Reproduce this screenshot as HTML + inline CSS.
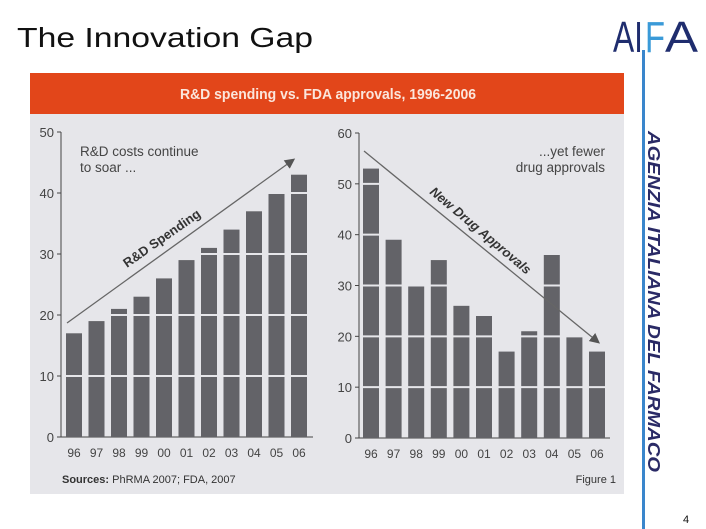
<!DOCTYPE html>
<html><head><meta charset="utf-8"><style>
html,body{margin:0;padding:0;background:#fff;width:706px;height:529px;overflow:hidden}
svg{display:block;font-family:"Liberation Sans",sans-serif}
</style></head><body>
<svg id="s" width="706" height="529">
<text x="17" y="47" font-size="28" fill="#111" textLength="296" lengthAdjust="spacingAndGlyphs">The Innovation Gap</text>
<g>
<text x="613" y="52" font-size="44" fill="#1f2d6e" textLength="30" lengthAdjust="spacingAndGlyphs">AI</text>
<text x="645" y="52" font-size="44" fill="#3a9ad8" textLength="20" lengthAdjust="spacingAndGlyphs">F</text>
<text x="665" y="52" font-size="44" fill="#1f2d6e" textLength="33" lengthAdjust="spacingAndGlyphs">A</text>
</g>
<rect x="642" y="50" width="3" height="479" fill="#3a86cc"/>
<text transform="translate(648,131) rotate(90)" font-size="17.5" font-weight="bold" font-style="italic" fill="#2a2a66" textLength="341" lengthAdjust="spacingAndGlyphs">AGENZIA ITALIANA DEL FARMACO</text>
<text x="683" y="523" font-size="11" fill="#111">4</text>
<rect x="30" y="73" width="594" height="421" fill="#e6e6ea"/>
<rect x="30" y="73" width="594" height="41" fill="#e2461a"/>
<text x="180" y="99" font-size="15" font-weight="bold" fill="#fbe6dc" textLength="296" lengthAdjust="spacingAndGlyphs">R&amp;D spending vs. FDA approvals, 1996-2006</text>
<g id="left"></g>
<g id="right"></g>
<text x="62" y="483" font-size="11" fill="#333"><tspan font-weight="bold">Sources:</tspan> PhRMA 2007; FDA, 2007</text>
<text x="616" y="483" font-size="11" fill="#333" text-anchor="end">Figure 1</text>
</svg>
<script>
const years=["96","97","98","99","00","01","02","03","04","05","06"];
const rdValues=[17,19,21,23,26,29,31,34,37,40,43];
const approvals=[53,39,30,35,26,24,17,21,36,20,17];
const rdTicks=[0,10,20,30,40,50];
const apTicks=[0,10,20,30,40,50,60];
const NS="http://www.w3.org/2000/svg";
function mk(p,t,a){const e=document.createElementNS(NS,t);for(const k in a)e.setAttribute(k,a[k]);p.appendChild(e);return e;}
function chart(g,vals,ticks,cfg){
 const max=ticks[ticks.length-1];
 const y=v=>cfg.y0-(cfg.y0-cfg.yTop)*v/max;
 const x=i=>cfg.x0+cfg.step*i;
 mk(g,'line',{x1:cfg.ax,y1:cfg.yTop,x2:cfg.ax,y2:cfg.y0,stroke:'#444','stroke-width':1});
 mk(g,'line',{x1:cfg.ax,y1:cfg.y0,x2:cfg.xEnd,y2:cfg.y0,stroke:'#444','stroke-width':1});
 ticks.forEach(t=>{
  mk(g,'line',{x1:cfg.ax-4,y1:y(t),x2:cfg.ax,y2:y(t),stroke:'#444'});
  const tx=mk(g,'text',{x:cfg.ax-7,y:y(t)+5,'font-size':13,fill:'#444','text-anchor':'end'});tx.textContent=t;
  
  
 });
 vals.forEach((v,i)=>{
  const r=mk(g,'rect',{x:x(i),y:y(v),width:cfg.bw,height:cfg.y0-y(v),fill:'#636368'});
  
  
  const tx=mk(g,'text',{x:x(i)+cfg.bw/2,y:cfg.y0+20,'font-size':12,fill:'#444','text-anchor':'middle'});tx.textContent=years[i];
  
  
 });
 ticks.forEach(t=>{if(t>0&&t<max){const l=mk(g,'line',{x1:cfg.ax+2,y1:y(t),x2:cfg.xEnd-2,y2:y(t),stroke:'#e6e6ea','stroke-width':2});
  
  }});
}
const L=document.getElementById('left'),R=document.getElementById('right');
chart(L,rdValues,rdTicks,{ax:61,y0:437,yTop:132,x0:66,step:22.5,bw:16,xEnd:313});
chart(R,approvals,apTicks,{ax:359,y0:438,yTop:133,x0:363,step:22.6,bw:16,xEnd:610});
const defs=mk(document.getElementById('s'),'defs',{});
const m=mk(defs,'marker',{id:'ah',markerWidth:8,markerHeight:8,refX:6,refY:4,orient:'auto'});
mk(m,'path',{d:'M0,0 L8,4 L0,8 z',fill:'#555'});
const a1=mk(L,'line',{x1:67,y1:323,x2:293,y2:160,stroke:'#666','stroke-width':1.3,'marker-end':'url(#ah)'});


const a2=mk(R,'line',{x1:364,y1:151,x2:598,y2:342,stroke:'#666','stroke-width':1.3,'marker-end':'url(#ah)'});


function txt(p,a,s,name){const t=mk(p,'text',a);t.textContent=s;return t;}
txt(L,{x:80,y:156,'font-size':13.5,fill:'#444'},'R&D costs continue','annotation-line1');
txt(L,{x:80,y:172,'font-size':13.5,fill:'#444'},'to soar ...','annotation-line2');
txt(L,{transform:'translate(127,268) rotate(-35)','font-size':13,'font-weight':'bold',fill:'#333'},'R&D Spending','rd-arrow-label');
txt(R,{x:605,y:156,'font-size':13.5,fill:'#444','text-anchor':'end'},'...yet fewer','annotation2-line1');
txt(R,{x:605,y:172,'font-size':13.5,fill:'#444','text-anchor':'end'},'drug approvals','annotation2-line2');
txt(R,{transform:'translate(429,193) rotate(40)','font-size':13,'font-weight':'bold','font-style':'italic',fill:'#333'},'New Drug Approvals','approvals-arrow-label');
</script>
</body></html>
